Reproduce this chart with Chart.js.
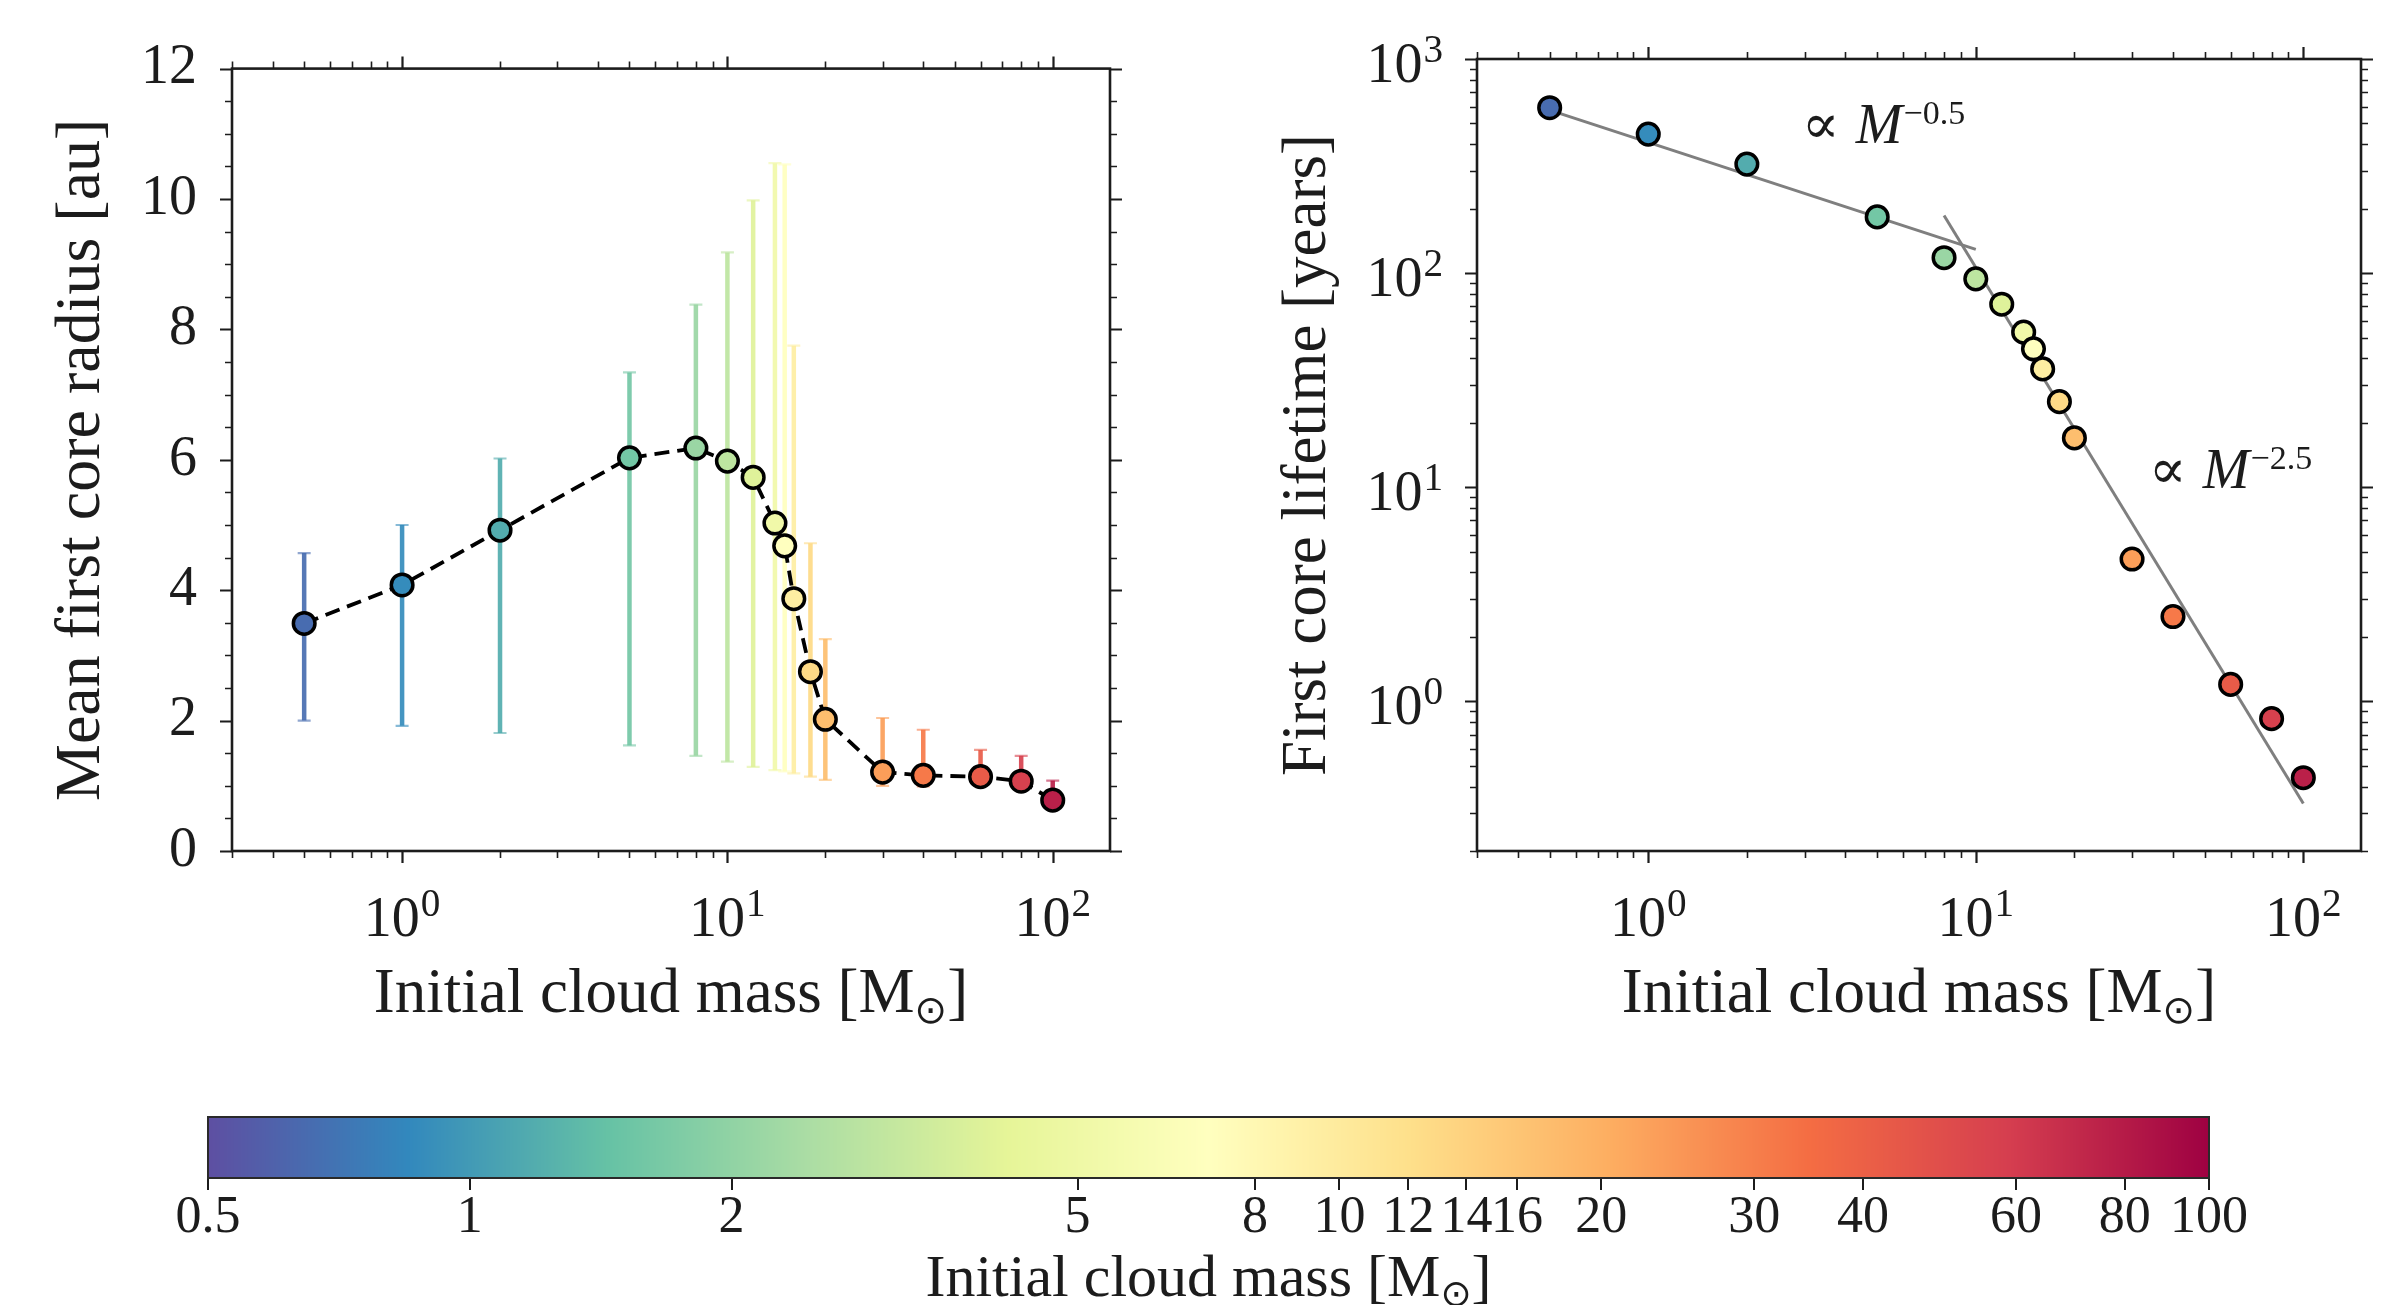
<!DOCTYPE html>
<html>
<head>
<meta charset="utf-8">
<script src="https://cdn.jsdelivr.net/npm/chart.js@4.4.1/dist/chart.umd.min.js"></script>
<style>
html,body{margin:0;padding:0;background:#fff;}
#wrap{position:relative;width:2395px;height:1305px;overflow:hidden;background:#fff;}
#wrap canvas{position:absolute;}
</style>
</head>
<body>
<div id="wrap">
  <canvas id="cA" width="1190" height="1080" style="left:0;top:0;"></canvas>
  <canvas id="cB" width="1205" height="1080" style="left:1190px;top:0;"></canvas>
  <canvas id="cC" width="2395" height="225" style="left:0;top:1080px;"></canvas>
</div>
<script>
// ---------------- data ----------------
const masses = [0.5, 1, 2, 5, 8, 10, 12, 14, 15, 16, 18, 20, 30, 40, 60, 80, 100];
const radiusMean  = [3.49, 4.08, 4.92, 6.03, 6.18, 5.98, 5.73, 5.03, 4.68, 3.87, 2.75, 2.02, 1.21, 1.16, 1.14, 1.07, 0.78];
const radiusUpper = [4.57, 5.00, 6.02, 7.34, 8.38, 9.18, 9.98, 10.55, 10.53, 7.75, 4.72, 3.25, 2.04, 1.86, 1.55, 1.46, 1.08];
const radiusLower = [2.00, 1.92, 1.81, 1.62, 1.46, 1.37, 1.29, 1.24, 1.22, 1.19, 1.14, 1.09, 1.00, 0.99, 1.02, 0.96, 0.67];
const lifetime    = [592, 446, 323, 183, 118, 94, 71.6, 53, 44.3, 35.7, 25.1, 17.0, 4.62, 2.49, 1.20, 0.83, 0.44];
const fitShallow  = [[0.5, 577], [10, 129]];      // ∝ M^-0.5 guide
const fitSteep    = [[8, 186], [100, 0.333]];     // ∝ M^-2.5 guide
const annotShallow = {x: 3.07, y: 404, exp: '\u22120.5'};
const annotSteep   = {x: 35.2, y: 9.9, exp: '\u22122.5'};
const radiusTicks   = [0, 2, 4, 6, 8, 10, 12];
const massDecades   = [1, 10, 100];
const massExponents = [0, 1, 2];
const lifeDecades   = [1, 10, 100, 1000];
const lifeExponents = [0, 1, 2, 3];
const cbTickValues = [0.5, 1, 2, 5, 8, 10, 12, 14, 16, 20, 30, 40, 60, 80, 100];
const cbTickLabels = ['0.5', '1', '2', '5', '8', '10', '12', '14', '16', '20', '30', '40', '60', '80', '100'];
const xTitleMain = 'Initial cloud mass [M';
const xTitleSub = '\u2299';
const xTitleEnd = ']';
const yTitleLeft = 'Mean first core radius [au]';
const yTitleRight = 'First core lifetime [years]';

// ---------------- style ----------------
const FONT = '"Liberation Serif", "DejaVu Serif", serif';
const INK = '#1c1c1c';
const SPECTRAL_R = ['#5e4fa2','#3288bd','#66c2a5','#abdda4','#e6f598','#ffffbf','#fee08b','#fdae61','#f46d43','#d53e4f','#9e0142'];
function hex2rgb(h){return [parseInt(h.substr(1,2),16),parseInt(h.substr(3,2),16),parseInt(h.substr(5,2),16)];}
const SPEC_RGB = SPECTRAL_R.map(hex2rgb);
function spectralR(t){
  t = Math.max(0, Math.min(1, t));
  const n = SPEC_RGB.length - 1;
  const f = t * n; let i = Math.floor(f); if (i >= n) i = n - 1;
  const u = f - i, a = SPEC_RGB[i], b = SPEC_RGB[i+1];
  return 'rgb(' + [0,1,2].map(k => Math.round(a[k] + (b[k]-a[k])*u)).join(',') + ')';
}
const pointColors = masses.map((m, i) => spectralR(0.05 + 0.9 * i / (masses.length - 1)));

Chart.defaults.font.family = FONT;
Chart.defaults.color = INK;

// ---------------- helpers ----------------
function logTicks(min, max){
  const major = [], minor = [];
  for (let d = -2; d <= 4; d++) {
    for (let k = 1; k <= 9; k++) {
      const v = k * Math.pow(10, d);
      if (v < min * 0.9999 || v > max * 1.0001) continue;
      (k === 1 ? major : minor).push(v);
    }
  }
  return {major, minor};
}
function linTicks(min, max, majorStep, minorStep){
  const major = [], minor = [];
  for (let v = min; v <= max + 1e-9; v += minorStep) {
    const r = Math.round(v * 1000) / 1000;
    if (Math.abs(r / majorStep - Math.round(r / majorStep)) < 1e-6) major.push(r); else minor.push(r);
  }
  return {major, minor};
}
function drawPow(ctx, exp, x, baseline, size, align){
  const base = '10', e = String(exp), es = size * 0.7;
  ctx.font = size + 'px ' + FONT; const wb = ctx.measureText(base).width;
  ctx.font = es + 'px ' + FONT; const we = ctx.measureText(e).width;
  const total = wb + we + 1;
  const x0 = align === 'center' ? x - total / 2 : x - total;
  ctx.textAlign = 'left'; ctx.textBaseline = 'alphabetic'; ctx.fillStyle = INK;
  ctx.font = size + 'px ' + FONT; ctx.fillText(base, x0, baseline);
  ctx.font = es + 'px ' + FONT; ctx.fillText(e, x0 + wb + 1, baseline - size * 0.36);
}
function drawMassTitle(ctx, cx, baseline, size){
  const ss = size * 0.62;
  ctx.save();
  ctx.fillStyle = INK; ctx.textAlign = 'left'; ctx.textBaseline = 'alphabetic';
  ctx.font = size + 'px ' + FONT; const w1 = ctx.measureText(xTitleMain).width; const w3 = ctx.measureText(xTitleEnd).width;
  ctx.font = ss + 'px "DejaVu Sans", sans-serif'; const w2 = ctx.measureText(xTitleSub).width;
  const x0 = cx - (w1 + w2 + w3) / 2;
  ctx.font = size + 'px ' + FONT;
  ctx.fillText(xTitleMain, x0, baseline);
  ctx.fillText(xTitleEnd, x0 + w1 + w2, baseline);
  ctx.font = ss + 'px "DejaVu Sans", sans-serif';
  ctx.fillText(xTitleSub, x0 + w1, baseline + size * 0.17);
  ctx.restore();
}
function drawFrameAndTicks(chart, xt, yt){
  const {ctx, chartArea: a, scales: {x, y}} = chart;
  ctx.save();
  ctx.strokeStyle = INK; ctx.lineCap = 'butt';
  const MAJ = 12, MIN = 7;
  function tickSet(vals, len, w){
    ctx.lineWidth = w; ctx.beginPath();
    vals.x.forEach(v => {
      const px = Math.round(x.getPixelForValue(v)) + 0.5;
      ctx.moveTo(px, a.bottom); ctx.lineTo(px, a.bottom + len);
      ctx.moveTo(px, a.top); ctx.lineTo(px, a.top - len);
    });
    vals.y.forEach(v => {
      const py = Math.round(y.getPixelForValue(v)) + 0.5;
      ctx.moveTo(a.left, py); ctx.lineTo(a.left - len, py);
      ctx.moveTo(a.right, py); ctx.lineTo(a.right + len, py);
    });
    ctx.stroke();
  }
  tickSet({x: xt.major, y: yt.major}, MAJ, 2.2);
  tickSet({x: xt.minor, y: yt.minor}, MIN, 1.6);
  ctx.lineWidth = 2.6;
  ctx.strokeRect(a.left, a.top, a.right - a.left, a.bottom - a.top);
  ctx.restore();
}
function drawMassAxis(chart){
  const {ctx, chartArea: a, scales: {x}} = chart;
  ctx.save();
  massDecades.forEach((v, i) => drawPow(ctx, massExponents[i], x.getPixelForValue(v), 936, 56, 'center'));
  ctx.restore();
  drawMassTitle(ctx, (a.left + a.right) / 2, 1012, 63);
}
function drawAnnot(chart, an){
  const {ctx, scales: {x, y}} = chart;
  const px = x.getPixelForValue(an.x), py = y.getPixelForValue(an.y);
  ctx.save();
  ctx.fillStyle = INK; ctx.textAlign = 'left'; ctx.textBaseline = 'alphabetic';
  ctx.font = '56px "DejaVu Serif", serif';
  ctx.fillText('\u221D', px - 6, py);
  ctx.font = 'italic 56px ' + FONT;
  ctx.fillText('M', px + 48, py);
  const wm = ctx.measureText('M').width;
  ctx.font = '34px ' + FONT;
  ctx.fillText(an.exp, px + 48 + wm + 1, py - 19);
  ctx.restore();
}

const xLogTicks = logTicks(0.3, 150);
const yLinTicks = linTicks(0, 12, 2, 0.5);
const yLogTicks = logTicks(0.2, 1000);

// ---------------- left panel ----------------
const errorBarPlugin = {
  id: 'errbars',
  beforeDatasetsDraw(chart){
    const {ctx, scales: {x, y}} = chart;
    ctx.save();
    for (let i = 0; i < masses.length; i++) {
      const px = x.getPixelForValue(masses[i]);
      const pLo = y.getPixelForValue(radiusLower[i]);
      const pHi = y.getPixelForValue(radiusUpper[i]);
      ctx.strokeStyle = pointColors[i];
      ctx.globalAlpha = 0.92; ctx.lineWidth = 4.5;
      ctx.beginPath(); ctx.moveTo(px, pLo); ctx.lineTo(px, pHi); ctx.stroke();
      ctx.globalAlpha = 0.6; ctx.lineWidth = 2.2;
      ctx.beginPath();
      ctx.moveTo(px - 6.5, pLo); ctx.lineTo(px + 6.5, pLo);
      ctx.moveTo(px - 6.5, pHi); ctx.lineTo(px + 6.5, pHi);
      ctx.stroke();
    }
    ctx.restore();
  }
};
const leftDecor = {
  id: 'leftDecor',
  afterDraw(chart){ drawFrameAndTicks(chart, xLogTicks, yLinTicks); drawMassAxis(chart); }
};
const radiusPoints = masses.map((m, i) => ({x: m, y: radiusMean[i]}));

new Chart(document.getElementById('cA'), {
  type: 'scatter',
  data: {datasets: [
    {type: 'line', data: radiusPoints, borderColor: '#000', borderWidth: 3.8, borderDash: [15, 8],
     pointRadius: 0, fill: false, tension: 0, order: 2},
    {type: 'scatter', data: radiusPoints, pointRadius: 10.8, pointBackgroundColor: pointColors,
     pointBorderColor: '#000', pointBorderWidth: 3.5, order: 1, clip: false}
  ]},
  options: {
    responsive: false, animation: false, devicePixelRatio: 1,
    layout: {padding: {left: 0, top: 59, right: 80, bottom: 0}},
    plugins: {legend: {display: false}, tooltip: {enabled: false}},
    scales: {
      x: {type: 'logarithmic', min: 0.3, max: 150, position: 'bottom',
          grid: {display: false}, border: {display: false}, ticks: {display: false},
          title: {display: false},
          afterFit: s => { s.height = 229; }},
      y: {type: 'linear', min: 0, max: 12, position: 'left',
          afterBuildTicks: s => { s.ticks = radiusTicks.map(v => ({value: v})); },
          grid: {display: true, drawOnChartArea: false, drawTicks: false, color: 'rgba(0,0,0,0)'},
          border: {display: false},
          ticks: {padding: 35, font: {size: 56, lineHeight: 1.2}, color: INK, callback: v => String(v)},
          title: {display: true, text: yTitleLeft, font: {size: 64, lineHeight: 1.2}, color: INK, padding: {top: 44, bottom: 0}},
          afterFit: s => { s.width = 232; }}
    }
  },
  plugins: [errorBarPlugin, leftDecor]
});

// ---------------- right panel ----------------
const rightDecor = {
  id: 'rightDecor',
  afterDraw(chart){
    drawFrameAndTicks(chart, xLogTicks, yLogTicks);
    drawMassAxis(chart);
    const {ctx, chartArea: a, scales: {y}} = chart;
    ctx.save();
    lifeDecades.forEach((v, i) => drawPow(ctx, lifeExponents[i], a.left - 34, y.getPixelForValue(v) + 23, 56, 'right'));
    ctx.restore();
    drawAnnot(chart, annotShallow);
    drawAnnot(chart, annotSteep);
  }
};
const lifePoints = masses.map((m, i) => ({x: m, y: lifetime[i]}));

new Chart(document.getElementById('cB'), {
  type: 'scatter',
  data: {datasets: [
    {type: 'line', data: fitShallow.map(p => ({x: p[0], y: p[1]})), borderColor: '#7f7f7f', borderWidth: 3,
     pointRadius: 0, fill: false, order: 3},
    {type: 'line', data: fitSteep.map(p => ({x: p[0], y: p[1]})), borderColor: '#7f7f7f', borderWidth: 3,
     pointRadius: 0, fill: false, order: 2},
    {type: 'scatter', data: lifePoints, pointRadius: 10.8, pointBackgroundColor: pointColors,
     pointBorderColor: '#000', pointBorderWidth: 3.5, order: 1, clip: false}
  ]},
  options: {
    responsive: false, animation: false, devicePixelRatio: 1,
    layout: {padding: {left: 0, top: 59, right: 34, bottom: 0}},
    plugins: {legend: {display: false}, tooltip: {enabled: false}},
    scales: {
      x: {type: 'logarithmic', min: 0.3, max: 150, position: 'bottom',
          grid: {display: false}, border: {display: false}, ticks: {display: false},
          title: {display: false},
          afterFit: s => { s.height = 229; }},
      y: {type: 'logarithmic', min: 0.2, max: 1000, position: 'left',
          grid: {display: false}, border: {display: false}, ticks: {display: false},
          title: {display: true, text: yTitleRight, font: {size: 63, lineHeight: 1.2}, color: INK, padding: {top: 81, bottom: 0}},
          afterFit: s => { s.width = 287; }}
    }
  },
  plugins: [rightDecor]
});

// ---------------- colorbar ----------------
const cbMin = 0.5, cbMax = 100;
const colorbarPlugin = {
  id: 'cbgrad',
  beforeDatasetsDraw(chart){
    const {ctx, chartArea: a, scales: {x}} = chart;
    const lmin = Math.log(cbMin), lmax = Math.log(cbMax);
    ctx.save();
    for (let px = Math.floor(a.left); px < Math.ceil(a.right); px++) {
      const v = x.getValueForPixel(px + 0.5);
      ctx.fillStyle = spectralR((Math.log(v) - lmin) / (lmax - lmin));
      ctx.fillRect(px, a.top, 1.3, a.bottom - a.top);
    }
    ctx.strokeStyle = '#2a2a2a'; ctx.lineWidth = 2;
    ctx.strokeRect(a.left, a.top, a.right - a.left, a.bottom - a.top);
    ctx.restore();
  },
  afterDraw(chart){
    const {ctx, chartArea: a} = chart;
    drawMassTitle(ctx, (a.left + a.right) / 2, 216, 60);
  }
};
new Chart(document.getElementById('cC'), {
  type: 'scatter',
  data: {datasets: [{data: [], pointRadius: 0}]},
  options: {
    responsive: false, animation: false, devicePixelRatio: 1,
    layout: {padding: {left: 208, top: 37, right: 186, bottom: 0}},
    plugins: {legend: {display: false}, tooltip: {enabled: false}},
    scales: {
      x: {type: 'logarithmic', min: cbMin, max: cbMax, position: 'bottom',
          afterBuildTicks: s => { s.ticks = cbTickValues.map(v => ({value: v})); },
          grid: {display: true, drawOnChartArea: false, drawTicks: true, tickLength: 12, color: INK, lineWidth: 2},
          border: {display: true, color: INK, width: 2},
          ticks: {autoSkip: false, maxRotation: 0, minRotation: 0, padding: 2, color: INK,
                  font: {size: 52, lineHeight: 1.0},
                  callback: (v, i) => cbTickLabels[i]},
          title: {display: false},
          afterFit: s => { s.height = 127; }},
      y: {display: false, min: 0, max: 1}
    }
  },
  plugins: [colorbarPlugin]
});
</script>
</body>
</html>
